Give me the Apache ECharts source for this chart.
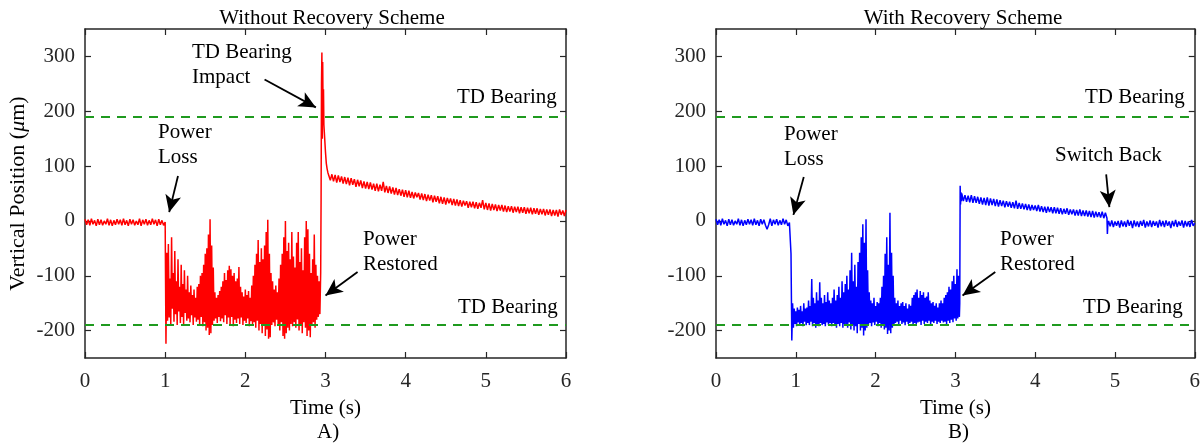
<!DOCTYPE html>
<html>
<head>
<meta charset="utf-8">
<script src="https://cdn.jsdelivr.net/npm/echarts@6/dist/echarts.min.js"></script>
<style>
  html, body { margin: 0; padding: 0; background: #fff; }
  #chart { width: 1203px; height: 446px; }
</style>
</head>
<body>
<div id="chart"></div>
<script>
// ---- data (time in s, position in um) ----
var xTicks = [0, 1, 2, 3, 4, 5, 6];
var yTicks = [-200, -100, 0, 100, 200, 300];
var tdBearing = 190;

// A) without recovery scheme
var leftPre = [3,-7,2,-8,4,-6,1,-9,3,-7,2,-8,0,-6,4,-8,2,-9,1,-7,3,-6,2,-8,4,-7,1,-9,3,-6,2,-8,0,-7,4,-9,2,-6,3,-8,1,-7,4,-6,2,-9,3,-7,1,-8,-2];
var leftLoss = [
  -224,-58,-182,-42,-176,-105,-188,-30,-160,-95,
  -184,-55,-170,-110,-190,-70,-165,-120,-186,-80,
  -175,-115,-188,-90,-168,-125,-182,-100,-178,-130,
  -185,-118,-172,-135,-190,-125,-176,-140,-184,-120,
  -180,-115,-188,-100,-175,-95,-192,-80,-185,-60,
  -200,-50,-195,-25,-208,3,-205,-45,-190,-85,
  -182,-130,-178,-140,-186,-135,-175,-128,-183,-120,
  -178,-110,-185,-95,-172,-108,-188,-90,-176,-82,
  -190,-88,-175,-100,-192,-95,-180,-110,-186,-105,
  -178,-84,-188,-120,-176,-130,-190,-138,-182,-125,
  -186,-135,-178,-128,-192,-140,-183,-118,-188,-100,
  -185,-80,-195,-60,-182,-35,-200,-75,-188,-50,
  -205,-70,-190,-45,-210,-20,-198,2,-215,-60,
  -212,-95,-190,-110,-185,-125,-192,-118,-180,-130,
  -190,-105,-200,-80,-185,-60,-210,-30,-215,0,
  -205,-55,-195,-40,-200,-70,-188,-20,-192,-65,
  -185,-85,-195,-40,-180,-20,-200,-75,-190,-50,
  -205,-90,-185,-30,-195,0,-210,-15,-200,-60,
  -212,-95,-190,-70,-185,-25,-195,-80,-180,-100,
  -175,-110,-170,-94
];
var leftImpact = [[2.945,40],[2.95,250],[2.955,307],[2.96,150],[2.965,290],[2.97,200],[2.975,240],[2.98,175],[2.99,150],[3.0,125],[3.01,105],[3.02,95],[3.03,88]];
var leftDecay = [
  88,74,85,72,84,70,83,71,81,68,
  80,67,79,65,78,66,76,62,75,63,
  74,60,72,59,71,58,70,57,68,55,
  68,54,66,55,71,52,64,51,63,50,
  61,48,60,47,58,46,57,44,56,43,
  55,42,53,41,52,43,51,39,50,38,
  49,36,48,37,47,34,46,35,45,32,
  44,31,43,30,42,32,41,29,40,28,
  39,27,38,26,37,28,36,24,35,25,
  35,23,34,22,33,24,38,21,33,20,
  32,19,31,20,30,18,29,19,29,17,
  28,16,27,17,27,15,26,16,26,14,
  25,15,25,13,24,14,24,12,23,13,
  23,11,22,12,22,10,21,11,21,9,
  20,10,20,8,21,11,19,9,20
];

// B) with recovery scheme
var rightPre = [3,-7,2,-8,4,-6,1,-9,3,-7,2,-8,0,-6,4,-8,2,-9,1,-7,3,-6,2,-8,4,-7,1,-9,3,-6,2,-8,-15,-7,4,-9,2,-6,3,-8,1,-7,4,-6,2,-9,-3];
var rightLoss = [
  -60,-218,-150,-195,-160,-188,-165,-192,-158,-185,
  -162,-190,-155,-186,-165,-192,-150,-184,-160,-190,
  -158,-186,-145,-190,-155,-184,-106,-192,-140,-186,
  -150,-195,-130,-188,-145,-192,-112,-186,-140,-190,
  -150,-188,-135,-192,-148,-185,-130,-190,-145,-186,
  -150,-192,-140,-186,-125,-190,-145,-195,-135,-188,
  -120,-192,-140,-186,-110,-195,-130,-188,-115,-190,
  -100,-195,-125,-185,-90,-198,-58,-190,-110,-200,
  -80,-192,-120,-205,-75,-188,-58,-200,-30,-195,
  -6,-209,-40,-200,3,-195,-90,-190,-130,-186,
  -145,-192,-150,-185,-140,-190,-155,-184,-148,-192,
  -150,-186,-140,-195,-120,-190,-100,-198,-60,-195,
  -30,-206,-80,-200,15,-205,-58,-195,-100,-190,
  -140,-186,-150,-184,-145,-190,-155,-182,-150,-188,
  -148,-185,-155,-190,-150,-184,-160,-188,-152,-186,
  -155,-184,-140,-190,-135,-186,-130,-188,-125,-185,
  -140,-184,-128,-190,-135,-182,-130,-188,-140,-184,
  -138,-186,-130,-182,-145,-188,-150,-184,-148,-186,
  -155,-182,-150,-188,-158,-184,-150,-186,-145,-182,
  -150,-185,-140,-184,-135,-188,-130,-182,-120,-186,
  -125,-180,-110,-185,-100,-178,-115,-182,-88,-178,
  -100,-175
];
var rightRestore = [[3.055,-150],[3.06,64],[3.065,30],[3.07,52],[3.075,36]];
var rightDecay = [
  50,36,47,35,46,34,47,33,45,33,
  44,31,43,30,42,29,43,28,41,29,
  40,27,39,26,38,27,37,25,36,26,
  35,24,34,23,37,22,33,22,32,21,
  31,20,30,19,29,20,28,18,29,17,
  27,16,26,15,26,16,25,14,25,14,
  24,13,23,12,22,13,23,11,21,12,
  21,10,20,10,21,9,19,9,19,8,
  18,7,18,6,17,7,16,6,17,5,
  15,5
];
var rightSwitch = [[4.905,-24],[4.91,-8]];
var rightPost = [0,-10,1,-11,-1,-9,0,-12,1,-10,-1,-11,2,-9,0,-13,1,-10,-1,-11,0,-9,2,-12,-1,-10,1,-11,0,-9,-1,-12,2,-10,0,-11,1,-9,-1,-13,0,-10,2,-11,-1,-9,1,-12,0,-10,-1,-11,2,-9,-4];

// sampled segment -> [t, v] pairs
function seg(t0, dt, vals) {
  return vals.map(function (v, i) { return [+(t0 + i * dt).toFixed(4), v]; });
}

var leftData = [].concat(seg(0, 0.02, leftPre), seg(1.01, 0.01, leftLoss), leftImpact, seg(3.04, 0.02, leftDecay));
var rightData = [].concat(seg(0, 0.02, rightPre), seg(0.94, 0.01, rightLoss), rightRestore, seg(3.08, 0.02, rightDecay), rightSwitch, seg(4.92, 0.02, rightPost));

var FONT = 'Liberation Serif';
var axisColor = '#262626';

function arrow(from, to) {
  return [
    { coord: from, symbol: 'none' },
    { coord: to, symbol: 'arrow', symbolSize: [12, 17] }
  ];
}

function thresholds() {
  return [
    [{ coord: [0, tdBearing], symbol: 'none', lineStyle: { color: '#1f9a1f', width: 2, type: [9, 7] } }, { coord: [6, tdBearing], symbol: 'none' }],
    [{ coord: [0, -tdBearing], symbol: 'none', lineStyle: { color: '#1f9a1f', width: 2, type: [9, 7] } }, { coord: [6, -tdBearing], symbol: 'none' }]
  ];
}

var xAxes = [], yAxes = [];
[0, 1].forEach(function (g) {
  xAxes.push({
    type: 'value', gridIndex: g, min: 0, max: 6, interval: 1, position: 'bottom',
    name: 'Time (s)', nameLocation: 'middle', nameGap: 40,
    nameTextStyle: { fontFamily: FONT, fontSize: 21, color: '#000' },
    axisLine: { onZero: false, lineStyle: { color: axisColor, width: 1.5 } },
    axisTick: { inside: true, length: 6, lineStyle: { color: axisColor, width: 1.2 } },
    axisLabel: { fontFamily: FONT, fontSize: 21, color: axisColor, margin: 13 },
    splitLine: { show: false }
  });
  xAxes.push({
    type: 'value', gridIndex: g, min: 0, max: 6, interval: 1, position: 'top',
    axisLine: { onZero: false, lineStyle: { color: axisColor, width: 1.5 } },
    axisTick: { inside: true, length: 6, lineStyle: { color: axisColor, width: 1.2 } },
    axisLabel: { show: false }, splitLine: { show: false }
  });
  yAxes.push({
    type: 'value', gridIndex: g, min: -250, max: 350, position: 'left',
    name: g === 0 ? '{a|Vertical Position (}{b|μ}{a|m)}' : '',
    nameLocation: 'middle', nameGap: 56, nameRotate: 90,
    nameTextStyle: {
      rich: {
        a: { fontFamily: FONT, fontSize: 22, color: '#000' },
        b: { fontFamily: FONT, fontSize: 22, color: '#000', fontStyle: 'italic' }
      }
    },
    axisLine: { onZero: false, lineStyle: { color: axisColor, width: 1.5 } },
    axisTick: { inside: true, length: 6, customValues: yTicks, lineStyle: { color: axisColor, width: 1.2 } },
    axisLabel: { fontFamily: FONT, fontSize: 21, color: axisColor, margin: 10, customValues: yTicks },
    splitLine: { show: false }
  });
  yAxes.push({
    type: 'value', gridIndex: g, min: -250, max: 350, position: 'right',
    axisLine: { onZero: false, lineStyle: { color: axisColor, width: 1.5 } },
    axisTick: { inside: true, length: 6, customValues: yTicks, lineStyle: { color: axisColor, width: 1.2 } },
    axisLabel: { show: false }, splitLine: { show: false }
  });
});

var textStyle = { fontFamily: FONT, fontSize: 21, fill: '#000' };
function label(x, y, text) {
  return { type: 'text', left: x, top: y, style: Object.assign({ text: text, lineHeight: 25 }, textStyle) };
}

var chart = echarts.init(document.getElementById('chart'));
chart.setOption({
  animation: false,
  backgroundColor: '#fff',
  title: [
    { text: 'Without Recovery Scheme', left: 327, top: 3, textAlign: 'center', textStyle: { fontFamily: FONT, fontSize: 21, fontWeight: 'normal', color: '#000' } },
    { text: 'With Recovery Scheme', left: 958, top: 3, textAlign: 'center', textStyle: { fontFamily: FONT, fontSize: 21, fontWeight: 'normal', color: '#000' } }
  ],
  grid: [
    { left: 85, top: 29, width: 481, height: 329 },
    { left: 716, top: 29, width: 480, height: 329 }
  ],
  xAxis: xAxes,
  yAxis: yAxes,
  series: [
    {
      type: 'line', xAxisIndex: 0, yAxisIndex: 0, data: leftData, showSymbol: false, sampling: null,
      lineStyle: { color: '#ff0000', width: 1.5 },
      markLine: {
        silent: true, animation: false, label: { show: false },
        lineStyle: { color: '#000', width: 1.8, type: 'solid' },
        data: thresholds().concat([
          arrow([2.24, 258], [2.88, 207]),
          arrow([1.16, 82], [1.05, 16]),
          arrow([3.40, -93], [3.0, -136])
        ])
      }
    },
    {
      type: 'line', xAxisIndex: 2, yAxisIndex: 2, data: rightData, showSymbol: false, sampling: null,
      lineStyle: { color: '#0000ff', width: 1.5 },
      markLine: {
        silent: true, animation: false, label: { show: false },
        lineStyle: { color: '#000', width: 1.8, type: 'solid' },
        data: thresholds().concat([
          arrow([1.10, 80], [0.97, 11]),
          arrow([4.89, 85], [4.93, 25]),
          arrow([3.50, -93], [3.09, -136])
        ])
      }
    }
  ],
  graphic: [
    label(192, 40, 'TD Bearing\nImpact'),
    label(457, 85, 'TD Bearing'),
    label(158, 120, 'Power\nLoss'),
    label(363, 227, 'Power\nRestored'),
    label(458, 295, 'TD Bearing'),
    label(1085, 85, 'TD Bearing'),
    label(784, 122, 'Power\nLoss'),
    label(1055, 143, 'Switch Back'),
    label(1000, 227, 'Power\nRestored'),
    label(1083, 295, 'TD Bearing'),
    { type: 'text', left: 317, top: 422, style: Object.assign({ text: 'A)' }, textStyle) },
    { type: 'text', left: 948, top: 422, style: Object.assign({ text: 'B)' }, textStyle) }
  ]
});
</script>
</body>
</html>
